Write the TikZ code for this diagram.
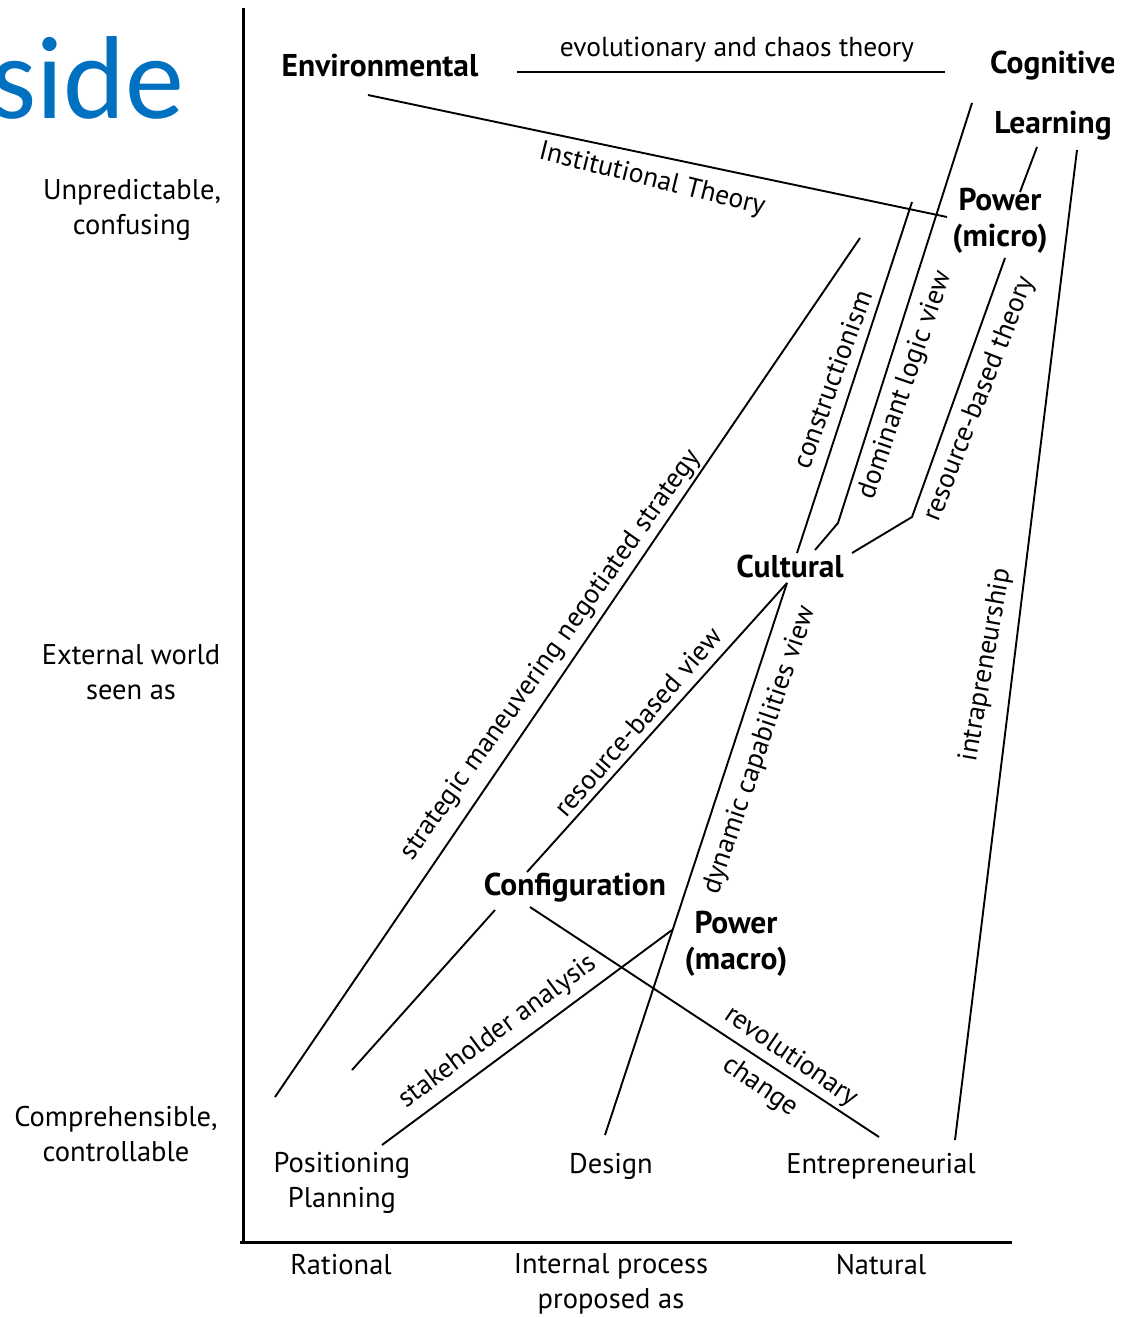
\documentclass[tikz,border=0pt]{standalone}
\usepackage{fontspec}
\setmainfont{PT Sans}
\newfontfamily\sidefont{Carlito}
\definecolor{sideblue}{HTML}{0070C0}
\begin{document}
\begin{tikzpicture}[x=1pt,y=-1pt,
  lbl/.style={font=\fontsize{28.5}{35}\selectfont, inner sep=0pt, align=center},
  bl/.style={font=\fontsize{31.5}{36}\selectfont\bfseries, inner sep=0pt, align=center},
  rl/.style={font=\fontsize{27.5}{30}\selectfont, inner sep=0pt},
  conn/.style={line width=1.9pt},
  axisline/.style={line width=3pt}]
\clip (0,0) rectangle (1130,1318);
\fill[white] (0,0) rectangle (1130,1318);

% title fragment
\node[anchor=base west, inner sep=0pt, text=sideblue, font=\fontsize{118}{118}\sidefont] (side) at (-10,118) {side};

% axes
\coordinate (ytop) at (243,8);
\coordinate (origin) at (243,1242);
\coordinate (xleft) at (240,1242);
\coordinate (xright) at (1012,1242);
\draw[axisline] (ytop) -- (origin);
\draw[axisline] (xleft) -- (xright);

% axis labels
\node[lbl] (unpred) at (132,210) {Unpredictable,\\confusing};
\node[lbl] (extw) at (131,672) {External world\\seen as};
\node[lbl] (compr) at (116,1134) {Comprehensible,\\controllable};
\node[lbl] (rational) at (341,1265) {Rational};
\node[lbl] (internal) at (611,1284) {Internal process\\proposed as};
\node[lbl] (natural) at (881,1265) {Natural};

% schools
\node[bl] (env) at (380,66) {Environmental};
\begin{scope}
\clip (0,0) rectangle (1113,1318);
\node[bl, anchor=west] (cog) at (990,66) {Cognitive};
\end{scope}
\node[bl] (learn) at (1053,126) {Learning};
\node[bl] (pmicro) at (1000,221) {Power\\(micro)};
\node[bl] (cult) at (790,566) {Cultural};
\node[bl] (config) at (575,888) {Configuration};
\node[bl] (pmacro) at (736,944) {Power\\(macro)};
\node[lbl] (posplan) at (342,1183) {Positioning\\Planning};
\node[lbl] (design) at (611,1166) {Design};
\node[lbl] (entre) at (881,1166) {Entrepreneurial};

% connector end points
\coordinate (evoL) at (517,72);
\coordinate (evoR) at (945,72);
\coordinate (instA) at (368,95);
\coordinate (instB) at (947,217);
\coordinate (cogA) at (972,103);
\coordinate (cogB) at (838,523);
\coordinate (cogC) at (815,550);
\coordinate (micA) at (912,202);
\coordinate (micB) at (797,553);
\coordinate (rbtA) at (1005,258);
\coordinate (rbtB) at (912,517);
\coordinate (rbtC) at (852,553);
\coordinate (lrnA) at (1037,147);
\coordinate (lrnB) at (1020,192);
\coordinate (intA) at (1077,150);
\coordinate (intB) at (955,1140);
\coordinate (smA) at (860,238);
\coordinate (smB) at (275,1097);
\coordinate (cultB) at (787,583);
\coordinate (confT) at (527,872);
\coordinate (desT) at (605,1135);
\coordinate (confL) at (495,910);
\coordinate (confLB) at (352,1070);
\coordinate (pmacL) at (672,930);
\coordinate (posT) at (382,1145);
\coordinate (confR) at (530,907);
\coordinate (entT) at (879,1137);

% connectors
\draw[conn] (evoL) -- (evoR);
\draw[conn] (instA) -- (instB);
\draw[conn] (cogA) -- (cogB) -- (cogC);
\draw[conn] (micA) -- (micB);
\draw[conn] (rbtA) -- (rbtB) -- (rbtC);
\draw[conn] (lrnA) -- (lrnB);
\draw[conn] (intA) -- (intB);
\draw[conn] (smA) -- (smB);
\draw[conn] (cultB) -- (confT);
\draw[conn] (cultB) -- (desT);
\draw[conn] (confL) -- (confLB);
\draw[conn] (pmacL) -- (posT);
\draw[conn] (confR) -- (entT);

% connector labels
\node[rl] (l-evo) at (737,50) {evolutionary and chaos theory};
\node[rl, rotate=-14] (l-inst) at (652,180) {Institutional Theory};
\node[rl, rotate=70] (l-cons) at (832,379) {constructionism};
\node[rl, rotate=71] (l-dom) at (906,385) {dominant logic view};
\node[rl, rotate=68.5] (l-rbt) at (980,399) {resource-based theory};
\node[rl, rotate=80] (l-intra) at (986,665) {intrapreneurship};
\node[rl, rotate=54.5] (l-sm) at (551,655) {strategic maneuvering negotiated strategy};
\node[rl, rotate=49] (l-rbv) at (638,722) {resource-based view};
\node[rl, rotate=71.3] (l-dyn) at (760,750) {dynamic capabilities view};
\node[rl, rotate=36.5] (l-stake) at (498,1032) {stakeholder analysis};
\node[rl, rotate=-34.5] (l-rev) at (791,1057) {revolutionary};
\node[rl, rotate=-35] (l-chg) at (760,1087) {change};
\end{tikzpicture}
\end{document}
